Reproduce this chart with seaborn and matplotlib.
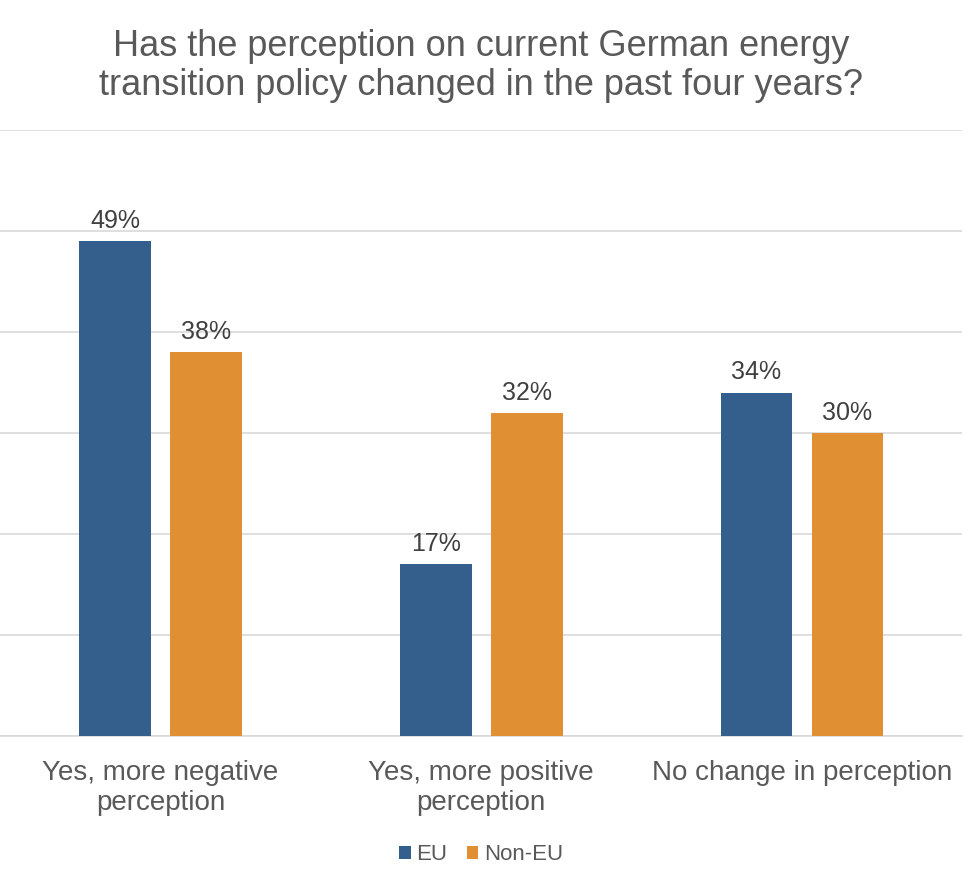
import pandas as pd
import matplotlib
matplotlib.use("Agg")
import matplotlib.pyplot as plt
import seaborn as sns

categories = ["Yes, more negative\nperception", "Yes, more positive\nperception", "No change in perception"]
groups = ["EU", "Non-EU"]
eu_values = [49, 17, 34]
non_eu_values = [38, 32, 30]
palette = {"EU": "#345F8C", "Non-EU": "#E08F33"}

df = pd.DataFrame({
    "category": categories * 2,
    "group": ["EU"] * 3 + ["Non-EU"] * 3,
    "share": eu_values + non_eu_values,
})

sns.set_theme(style="white")
plt.rcParams['font.family'] = ['Liberation Sans', 'DejaVu Sans']

fig = plt.figure(figsize=(9.78, 8.74), dpi=100)
ax = fig.add_axes([0.0, 0.158, 0.984, 0.693])

sns.barplot(data=df, x="category", y="share", hue="group", hue_order=groups,
            palette=palette, width=0.567, gap=0.21, saturation=1, linewidth=0,
            ax=ax, zorder=3)

for cont in ax.containers:
    ax.bar_label(cont, labels=[f"{v:.0f}%" for v in cont.datavalues],
                 padding=6, fontsize=18, color="#404040")

ax.set_ylim(0, 60)
ax.set_xlim(-0.5, 2.5)
ax.set_yticks(range(0, 61, 10))
ax.set_yticklabels([])
ax.tick_params(axis="y", length=0)
ax.tick_params(axis="x", length=0, labelsize=20, labelcolor="#595959", pad=17)
for lbl in ax.get_xticklabels():
    lbl.set_linespacing(1.2)
ax.yaxis.grid(True, color="#D9D9D9", linewidth=1.2, zorder=0)
ax.set_axisbelow(True)
for s in ["top", "right", "left"]:
    ax.spines[s].set_visible(False)
ax.spines["bottom"].set_color("#D9D9D9")
ax.spines["bottom"].set_linewidth(1.2)
ax.set_xlabel("")
ax.set_ylabel("")

fig.text(0.492, 0.925, "Has the perception on current German energy\ntransition policy changed in the past four years?",
         ha="center", va="center", fontsize=26, color="#595959", linespacing=1.15)

leg = ax.legend(loc="center", bbox_to_anchor=(0.5, -0.196), ncol=2, frameon=False,
                fontsize=16, handlelength=0.5, handleheight=0.5, handletextpad=0.25,
                columnspacing=0.9)
for t in leg.get_texts():
    t.set_color("#595959")

fig.savefig("out.png", dpi=100)
